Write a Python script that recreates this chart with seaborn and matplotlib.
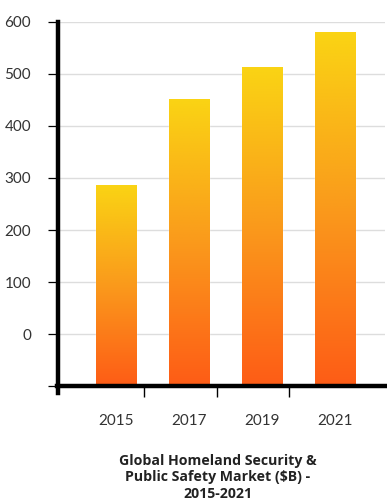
import numpy as np
import pandas as pd
import matplotlib
matplotlib.use("Agg")
import matplotlib.pyplot as plt
from matplotlib.colors import LinearSegmentedColormap
import seaborn as sns

# values (on its printed y scale)
years = ["2015", "2017", "2019", "2021"]
market = [286, 452, 512, 579]
baseline = -100
yticks = [-100, 0, 100, 200, 300, 400, 500, 600]
ytick_labels = ["", "0", "100", "200", "300", "400", "500", "600"]
title = "Global Homeland Security &\nPublic Safety Market ($B) -\n2015-2021"

df = pd.DataFrame({"year": years, "height": np.array(market) - baseline})

sns.set_theme(style="white")
plt.rcParams["font.family"] = ["Lato", "DejaVu Sans"]

fig = plt.figure(figsize=(3.87, 5.04), dpi=100)
ax = fig.add_axes([57.5 / 387, 1 - 393 / 504, (385 - 57.5) / 387, (393 - 21.5) / 504])

sns.barplot(data=df, x="year", y="height", bottom=baseline, width=0.55,
            color="#FBA01A", ax=ax, zorder=2)

# vertical gradient in every bar, yellow top -> orange bottom
cmap = LinearSegmentedColormap.from_list("yo", ["#FE5C16", "#FA9A1C", "#FAD414"])
grad = np.linspace(0, 1, 256).reshape(-1, 1)
for p in ax.patches:
    x0, y0 = p.get_x(), p.get_y()
    im = ax.imshow(grad, cmap=cmap, aspect="auto", origin="lower",
                   extent=[x0, x0 + p.get_width(), y0, y0 + p.get_height()], zorder=3)
    im.set_clip_path(p)

ax.set_xlim(-0.81, 3.69)
ax.set_ylim(-112.5, 600)
ax.set_yticks(yticks)
ax.set_yticklabels(ytick_labels)
ax.yaxis.grid(True, color="#DDDDDD", linewidth=1, zorder=0)
ax.set_axisbelow(True)

for s in ["top", "right"]:
    ax.spines[s].set_visible(False)
ax.spines["bottom"].set_position(("data", baseline))
ax.spines["left"].set_bounds(-112.5, 600)
for s in ["left", "bottom"]:
    ax.spines[s].set_linewidth(3.2)
    ax.spines[s].set_color("black")
ax.spines["left"].set_zorder(5)
ax.spines["bottom"].set_zorder(5)

ax.tick_params(axis="y", which="major", length=7, width=0.9, color="black",
               pad=12, labelsize=11, labelcolor="#333333", left=True)
# labels under the bars, short ticks between them
ax.set_xticks(range(len(years)))
ax.set_xticklabels(years)
ax.tick_params(axis="x", which="major", length=0, pad=20, labelsize=11, labelcolor="#333333")
ax.set_xticks([i + 0.375 for i in range(len(years) - 1)], minor=True)
ax.tick_params(axis="x", which="minor", length=8, width=1, color="black", bottom=True)
ax.set_xlabel("")
ax.set_ylabel("")

fig.text(218 / 387, 1 - 454 / 504, title, ha="center", va="top", fontsize=10.2,
         fontweight="bold", color="#222222", linespacing=1.22,
         family=["Open Sans", "DejaVu Sans"])

fig.savefig("out.png", dpi=100)
